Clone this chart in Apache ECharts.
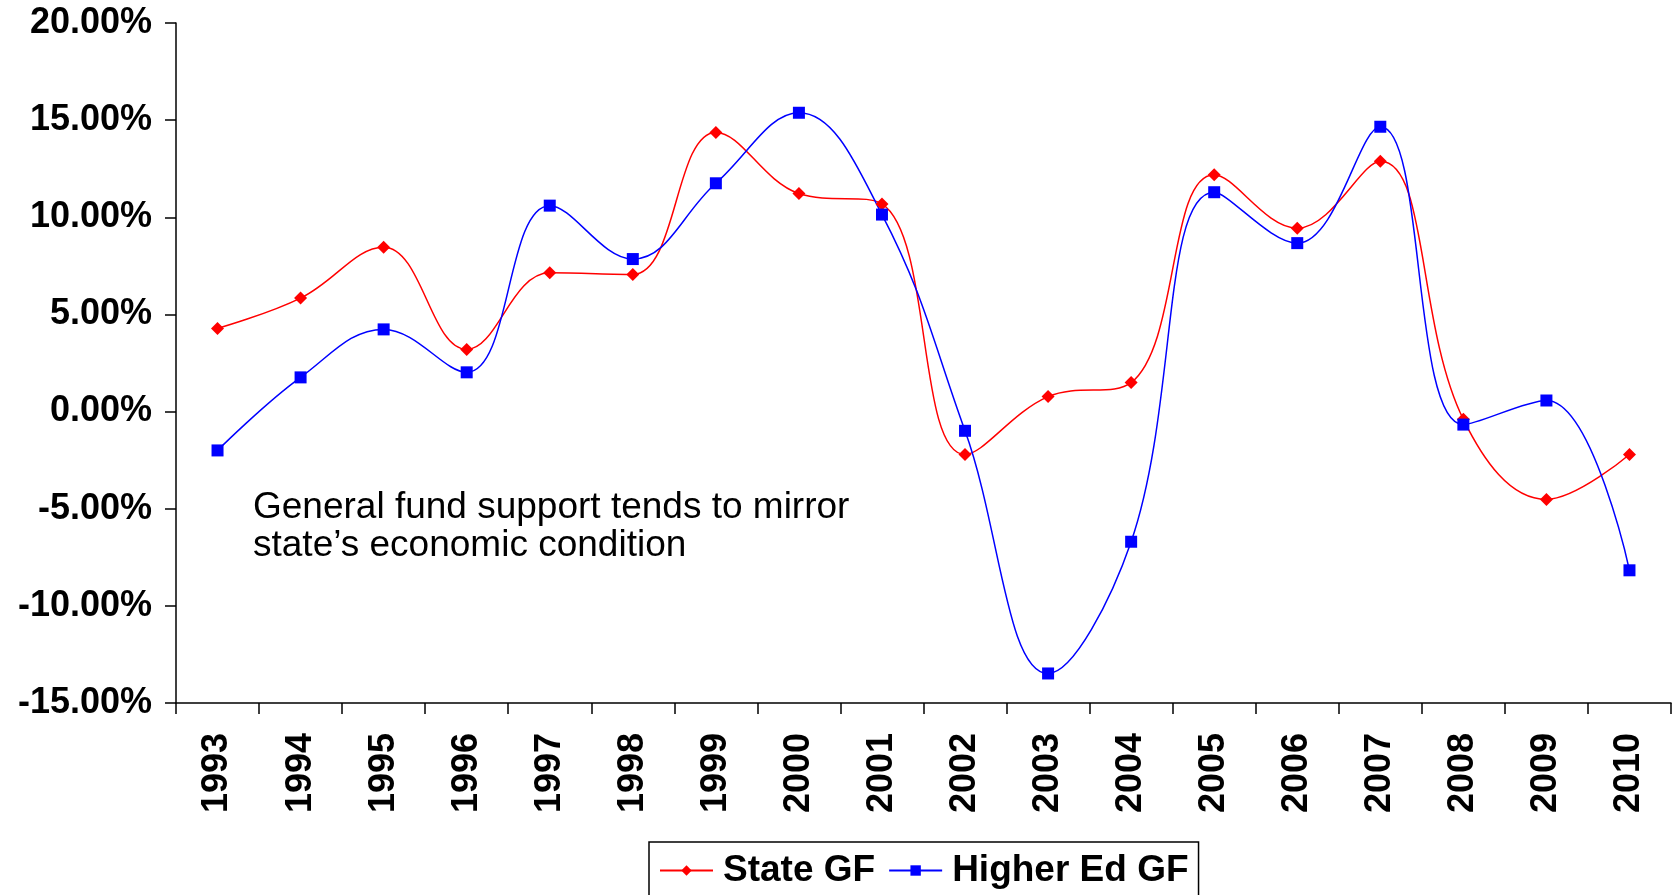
<!DOCTYPE html>
<html>
<head>
<meta charset="utf-8">
<title>General fund support</title>
<script src="https://cdn.jsdelivr.net/npm/echarts@6/dist/echarts.min.js"></script>
<style>
  html, body { margin: 0; padding: 0; background: #fff; }
  #main { width: 1673px; height: 895px; }
</style>
</head>
<body>
<div id="main"></div>
<script>
// data
var years = ['1993','1994','1995','1996','1997','1998','1999','2000','2001',
             '2002','2003','2004','2005','2006','2007','2008','2009','2010'];
var stateGF = [4.28, 5.84, 8.46, 3.20, 7.14, 7.06, 14.37, 11.22, 10.69,
               -2.21, 0.77, 1.49, 12.19, 9.44, 12.88, -0.40, -4.52, -2.21];
var higherEdGF = [-2.00, 1.76, 4.23, 2.02, 10.60, 7.85, 11.75, 15.38, 10.14,
                  -0.99, -13.48, -6.70, 11.29, 8.67, 14.66, -0.67, 0.57, -8.17];

var font = "'Liberation Sans', Arial, sans-serif";
var myChart = echarts.init(document.getElementById('main'));

var option = {
    backgroundColor: '#fff',
    animation: false,
    grid: { left: 176, right: 2, top: 23, bottom: 192 },
    legend: {
        left: 649, top: 842,
        padding: [10, 10, 10, 10],
        itemGap: 13,
        itemWidth: 53, itemHeight: 13,
        borderColor: '#000', borderWidth: 1.5,
        textStyle: {
            fontFamily: font, fontSize: 37, fontWeight: 'bold', color: '#000',
            padding: [0, 0, 0, 5]
        },
        data: ['State GF', 'Higher Ed GF']
    },
    xAxis: {
        type: 'category',
        data: years,
        boundaryGap: true,
        axisLine: { onZero: false, lineStyle: { color: '#000', width: 1.5 } },
        axisTick: { show: true, length: 11, lineStyle: { color: '#000', width: 1.5 } },
        axisLabel: {
            rotate: 90, margin: 30, interval: 0,
            fontFamily: font, fontSize: 36, fontWeight: 'bold', color: '#000'
        }
    },
    yAxis: {
        type: 'value',
        min: -15, max: 20, interval: 5,
        axisLine: { show: true, lineStyle: { color: '#000', width: 1.5 } },
        axisTick: { show: true, length: 11, lineStyle: { color: '#000', width: 1.5 } },
        splitLine: { show: false },
        axisLabel: {
            margin: 24,
            fontFamily: font, fontSize: 36, fontWeight: 'bold', color: '#000',
            formatter: function (v) { return v.toFixed(2) + '%'; }
        }
    },
    graphic: [{
        type: 'text',
        left: 253, top: 489,
        style: {
            text: 'General fund support tends to mirror\nstate\u2019s economic condition',
            font: '37px ' + font,
            lineHeight: 38,
            fill: '#000'
        }
    }],
    series: [{
        name: 'State GF',
        type: 'line',
        smooth: 0.4,
        data: stateGF,
        symbol: 'diamond',
        symbolSize: 13,
        itemStyle: { color: '#ff0000' },
        lineStyle: { color: '#ff0000', width: 1.5 }
    }, {
        name: 'Higher Ed GF',
        type: 'line',
        smooth: 0.4,
        data: higherEdGF,
        symbol: 'rect',
        symbolSize: 12,
        itemStyle: { color: '#0000ff' },
        lineStyle: { color: '#0000ff', width: 1.5 }
    }]
};
myChart.setOption(option);
</script>
</body>
</html>
